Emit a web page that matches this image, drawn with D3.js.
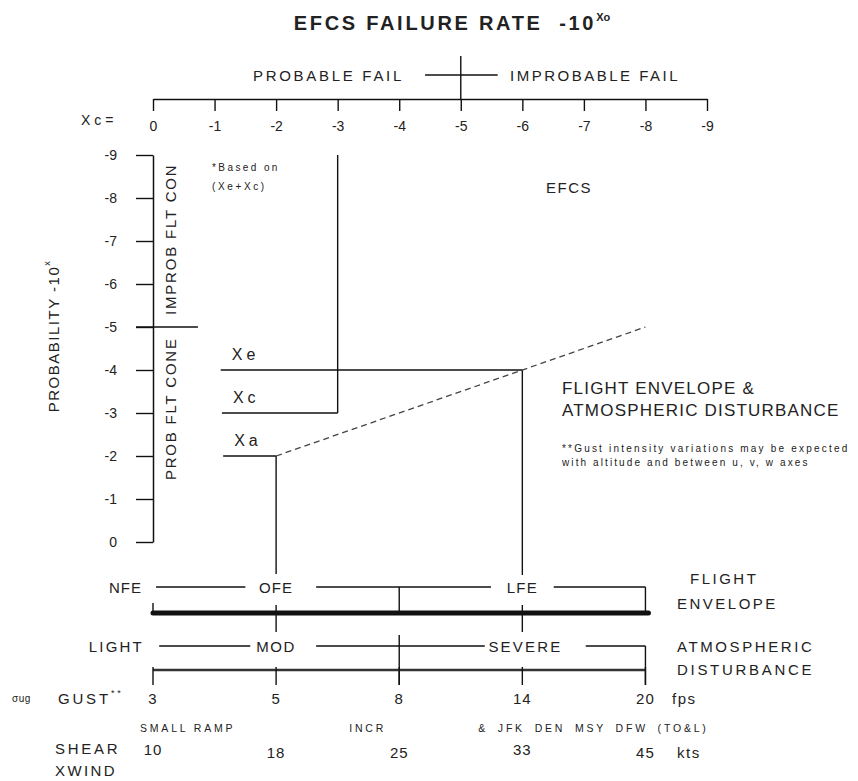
<!DOCTYPE html>
<html>
<head>
<meta charset="utf-8">
<script src="https://cdn.jsdelivr.net/npm/d3@7"></script>
<style>
body { margin: 0; background: #fff; }
text { font-family: "Liberation Sans", Arial, sans-serif; fill: #222; }
</style>
</head>
<body>
<div id="chart"></div>
<script>
// top axis: EFCS failure rate exponent (Xc)
const xcTicks = [0, -1, -2, -3, -4, -5, -6, -7, -8, -9];
// left axis: probability exponent
const probTicks = [0, -1, -2, -3, -4, -5, -6, -7, -8, -9];
// exposure levels (name, probability exponent, span on the Xc axis)
const levelNames = ["Xe", "Xc", "Xa"];
const levelProb = [-4, -3, -2];
const levelFrom = [-1.1, -1.12, -1.14];
const levelTo = [-6, -3, -2];
// dashed EFCS line (Xc, probability)
const trendXc = [-2, -8];
const trendProb = [-2, -5];
// flight envelope / atmospheric disturbance rows
const envLabels = ["OFE", "LFE"];
const envAt = [-2, -6];
const atmLabels = ["MOD", "SEVERE"];
const atmAt = [-2, -6.05];
const gustFps = ["3", "5", "8", "14", "20"];
const shearKts = ["10", "18", "25", "33", "45"];
const shearNotes = ["SMALL RAMP", "INCR", "& JFK DEN MSY DFW (TO&L)"];
const shearNoteAt = ["3", "8", "14"];

const width = 858, height = 781;
const svg = d3.select("#chart").append("svg")
    .attr("width", width).attr("height", height);

const x = d3.scaleLinear().domain([0, -9]).range([153, 707]);
const y = d3.scaleLinear().domain([0, -9]).range([542, 155]);
const g = d3.scalePoint().domain(gustFps).range([x(0), x(-8)]);

// row heights of the bottom block
const row = { env: 587, envAxis: 613, atm: 646, atmAxis: 670, gust: 698, note: 728, shear: 752, xwind: 770 };

function line(x1, y1, x2, y2, w, extra) {
    const l = svg.append("line")
        .attr("x1", x1).attr("y1", y1).attr("x2", x2).attr("y2", y2)
        .attr("stroke", extra && extra.color || "#111")
        .attr("stroke-width", w || 1.4);
    if (extra && extra.dash) l.attr("stroke-dasharray", extra.dash);
    if (extra && extra.cap) l.attr("stroke-linecap", extra.cap);
    return l;
}
function label(txt, px, py, size, anchor, ls) {
    return svg.append("text")
        .attr("x", px).attr("y", py)
        .attr("font-size", size)
        .attr("text-anchor", anchor || "start")
        .attr("dominant-baseline", "central")
        .attr("letter-spacing", ls == null ? 1.5 : ls)
        .text(txt);
}

// title
const title = svg.append("text")
    .attr("x", 452).attr("y", 30)
    .attr("text-anchor", "middle")
    .attr("font-size", 20).attr("font-weight", "bold")
    .attr("letter-spacing", 2.7)
    .attr("xml:space", "preserve")
    .text("EFCS FAILURE RATE  -10");
title.append("tspan").attr("font-size", 11).attr("dy", -9).attr("letter-spacing", 0).text("Xo");

// probable / improbable fail marker
label("PROBABLE FAIL", 404, 75, 15, "end", 2.7);
label("IMPROBABLE FAIL", 510, 75, 15, "start", 2.5);
line(x(-4.42), 75, x(-5.6), 75);
line(x(-5), 56, x(-5), 99);

// top axis
const topAxis = svg.append("g")
    .attr("transform", "translate(0,99)")
    .call(d3.axisBottom(x).tickValues(xcTicks).tickSize(12).tickSizeOuter(0)
        .tickPadding(10).tickFormat(d => String(d)));
label("Xc=", 81, 120, 14, "start", 4);

// left axis
const leftAxis = svg.append("g")
    .attr("transform", "translate(153,0)")
    .call(d3.axisLeft(y).tickValues(probTicks).tickSize(17).tickSizeOuter(0)
        .tickPadding(19).tickFormat(d => String(d)));

[topAxis, leftAxis].forEach(a => {
    a.select(".domain").attr("stroke", "#111").attr("stroke-width", 1.5);
    a.selectAll(".tick line").attr("stroke", "#111").attr("stroke-width", 1.4);
    a.selectAll(".tick text").attr("font-size", 14).attr("fill", "#222")
        .attr("font-family", "Liberation Sans, Arial, sans-serif");
});

// y axis title
const yTitle = svg.append("text")
    .attr("transform", "translate(53,336) rotate(-90)")
    .attr("text-anchor", "middle").attr("dominant-baseline", "central")
    .attr("font-size", 15).attr("letter-spacing", 1.5)
    .text("PROBABILITY -10");
yTitle.append("tspan").attr("font-size", 9).attr("dy", -6).text("x");

// flight confidence split at -5
line(x(0) - 17, y(-5), x(-0.73), y(-5));
svg.append("text")
    .attr("transform", `translate(170,${y(-5.28)}) rotate(-90)`)
    .attr("dominant-baseline", "central").attr("font-size", 15).attr("letter-spacing", 1.8)
    .text("IMPROB FLT CON");
svg.append("text")
    .attr("transform", `translate(170,${y(-1.44)}) rotate(-90)`)
    .attr("dominant-baseline", "central").attr("font-size", 15).attr("letter-spacing", 1.8)
    .text("PROB FLT CONE");

// notes
label("*Based on", x(-0.96), y(-8.7), 10, "start", 2.4);
label("(Xe+Xc)", x(-0.96), y(-8.26), 10, "start", 2.6);
label("EFCS", x(-6.76), y(-8.24), 15, "middle");
label("FLIGHT ENVELOPE &", 562, 388, 17, "start", 1.2);
label("ATMOSPHERIC DISTURBANCE", 562, 410, 17, "start", 1.2);
label("**Gust intensity variations may be expected", 562, 448, 10, "start", 2.2);
label("with altitude and between u, v, w axes", 562, 462, 10, "start", 2.1);

// exposure levels
levelNames.forEach((n, i) => {
    line(x(levelFrom[i]), y(levelProb[i]), x(levelTo[i]), y(levelProb[i]));
    label(n, x(levelFrom[i]) + 11, y(levelProb[i]) - 16, 16, "start", 4);
});
line(x(-3), y(-9), x(-3), y(-3));
line(x(-6), y(-4), x(-6), row.env - 12);
line(x(-2), y(-2), x(-2), row.env - 13);

// dashed EFCS line
svg.append("path")
    .datum(trendXc.map((d, i) => [d, trendProb[i]]))
    .attr("d", d3.line().x(d => x(d[0])).y(d => y(d[1])))
    .attr("fill", "none").attr("stroke", "#444")
    .attr("stroke-width", 1.3).attr("stroke-dasharray", "6,4");

// flight envelope row
label("NFE", 142, row.env, 15, "end", 1);
envLabels.forEach((n, i) => label(n, x(envAt[i]), row.env, 15, "middle", 1.2));
[[-0.05, -1.5], [-2.65, -5.49], [-6.51, -8]].forEach(s => line(x(s[0]), row.env, x(s[1]), row.env));
line(x(-4), row.env, x(-4), row.envAxis);
line(x(-8), row.env, x(-8), row.envAxis);
line(x(0), row.envAxis - 10, x(0), row.envAxis);
envAt.forEach(v => line(x(v), row.envAxis - 8, x(v), row.envAxis + 19));
line(x(0), row.envAxis, x(-8) + 3, row.envAxis, 5, { cap: "round" });
label("FLIGHT", 690, 578, 15, "start", 2.5);
label("ENVELOPE", 677, 603, 15, "start", 2.5);

// atmospheric disturbance row
label("LIGHT", 144, row.atm, 15, "end", 2.2);
atmLabels.forEach((n, i) => label(n, x(atmAt[i]), row.atm, 15, "middle", i ? 2.2 : 1.5));
[[-0.1, -1.58], [-2.65, -5.39], [-7.03, -8]].forEach(s => line(x(s[0]), row.atm, x(s[1]), row.atm));
line(x(-4), row.atm - 11, x(-4), row.gust - 13);
line(x(-8), row.atm, x(-8), row.gust - 13);
line(x(0), row.atmAxis, x(-8), row.atmAxis, 2.6, { color: "#333" });
gustFps.forEach(v => line(g(v), row.atmAxis - 3, g(v), row.gust - 13));
label("ATMOSPHERIC", 677, row.atm, 15, "start", 2.6);
label("DISTURBANCE", 677, row.atmAxis - 1, 15, "start", 2.7);

// gust and shear scales
label("\u03c3ug", 12, row.gust, 10, "start", 0.5);
const gust = label("GUST", 58, row.gust, 15, "start", 2.8);
gust.append("tspan").attr("font-size", 9).attr("dy", -5).text("**");
gustFps.forEach(v => label(v, g(v), row.gust, 15, "middle", 1));
label("fps", 672, row.gust, 15, "start", 1.5);

shearNotes.forEach((n, i) => {
    const off = [-13, -50, -44][i];
    label(n, g(shearNoteAt[i]) + off, row.note, 10.5, "start", 2.8)
        .attr("word-spacing", i === 2 ? 4 : 0);
});
label("SHEAR", 55, row.shear - 4, 15, "start", 2.7);
label("XWIND", 55, row.xwind, 15, "start", 2.4);
shearKts.forEach((v, i) => label(v, g(gustFps[i]), row.shear - (i === 0 || i === 3 ? 3 : 0), 15, "middle", 1));
label("kts", 677, row.shear, 15, "start", 1.5);
</script>
</body>
</html>
